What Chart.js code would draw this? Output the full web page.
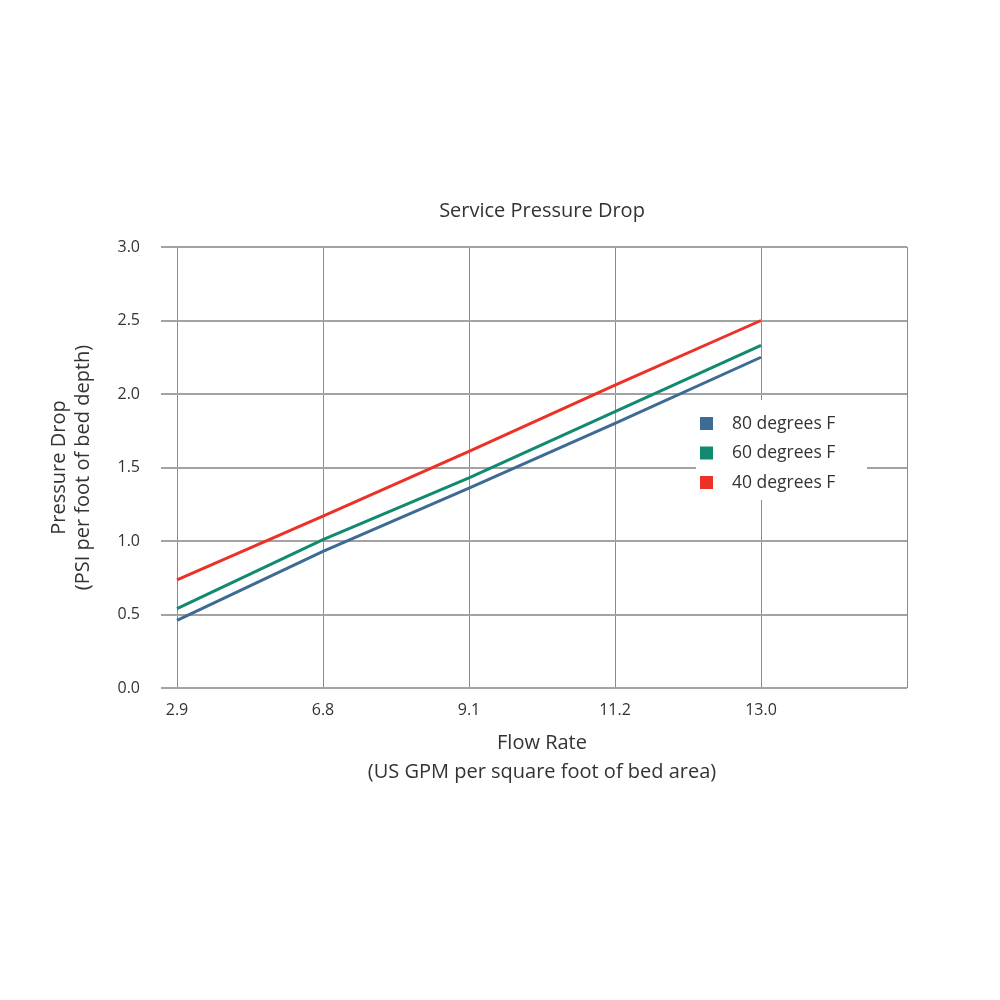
<!DOCTYPE html>
<html>
<head>
<meta charset="utf-8">
<script src="https://cdn.jsdelivr.net/npm/chart.js@4/dist/chart.umd.min.js"></script>
<style>
  html, body { margin: 0; padding: 0; background: #fff; }
  #wrap { width: 1000px; height: 1000px; }
</style>
</head>
<body>
<div id="wrap"><canvas id="chart" width="1000" height="1000"></canvas></div>
<script>
// Flow rate categories (last one is an empty slot, the plot runs on past 13.0)
var flowRates = ["2.9", "6.8", "9.1", "11.2", "13.0", ""];

// Pressure drop
var deg80 = [0.46, 0.93, 1.36, 1.80, 2.25];
var deg60 = [0.54, 1.01, 1.43, 1.88, 2.33];
var deg40 = [0.735, 1.17, 1.61, 2.06, 2.50];

var seriesNames = ["80 degrees F", "60 degrees F", "40 degrees F"];
var yTicks = [0, 0.5, 1.0, 1.5, 2.0, 2.5, 3.0];

var FONT = "'Open Sans', 'Noto Sans', sans-serif";
var TEXT = "#333333";

// Legend drawn inside the plot, on a white box
var boxLegend = {
    id: "boxLegend",
    afterDatasetsDraw(chart) {
        var ctx = chart.ctx;
        ctx.save();
        ctx.fillStyle = "#ffffff";
        ctx.fillRect(696, 400, 171, 100);
        chart.data.datasets.forEach((ds, i) => {
            var y = 424 + i * 29.5;
            ctx.fillStyle = ds.borderColor;
            ctx.fillRect(700, y - 7, 13, 13);
            ctx.fillStyle = TEXT;
            ctx.font = "17.5px " + FONT;
            ctx.textBaseline = "middle";
            ctx.textAlign = "left";
            ctx.fillText(ds.label, 732, y);
        });
        ctx.restore();
    }
};

new Chart(document.getElementById("chart").getContext("2d"), {
    type: "line",
    data: {
        labels: flowRates,
        datasets: [{
            label: seriesNames[0],
            data: deg80,
            borderColor: "#3e6b94",
            backgroundColor: "#3e6b94",
            borderWidth: 3,
            pointRadius: 0,
            tension: 0
        }, {
            label: seriesNames[1],
            data: deg60,
            borderColor: "#128a70",
            backgroundColor: "#128a70",
            borderWidth: 3,
            pointRadius: 0,
            tension: 0
        }, {
            label: seriesNames[2],
            data: deg40,
            borderColor: "#ec3127",
            backgroundColor: "#ec3127",
            borderWidth: 3,
            pointRadius: 0,
            tension: 0
        }]
    },
    options: {
        responsive: false,
        animation: false,
        devicePixelRatio: 1,
        layout: { padding: { top: 199, left: 0, right: 93, bottom: 192 } },
        plugins: {
            legend: { display: false },
            tooltip: { enabled: false },
            title: {
                display: true,
                fullSize: false,
                text: "Service Pressure Drop",
                color: TEXT,
                font: { family: FONT, size: 20, weight: "normal", lineHeight: 1.2 },
                padding: { top: 0, bottom: 24 }
            }
        },
        scales: {
            x: {
                type: "category",
                offset: false,
                border: { display: false },
                grid: { color: "#8c8c8c", lineWidth: 1, drawTicks: false },
                ticks: {
                    color: TEXT,
                    padding: 13,
                    maxRotation: 0,
                    autoSkip: false,
                    font: { family: FONT, size: 16 }
                },
                title: {
                    display: true,
                    text: ["Flow Rate", "(US GPM per square foot of bed area)"],
                    color: TEXT,
                    font: { family: FONT, size: 20, lineHeight: 1.45 },
                    padding: { top: 0, bottom: 21 }
                },
                afterFit(scale) { scale.height = 120; }
            },
            y: {
                min: 0,
                max: 3,
                border: { display: false },
                grid: { color: "#a3a3a3", lineWidth: 2, tickLength: 16 },
                afterBuildTicks(scale) {
                    scale.ticks = yTicks.map(v => ({ value: v }));
                },
                ticks: {
                    color: TEXT,
                    padding: 21,
                    font: { family: FONT, size: 16 },
                    callback: v => v.toFixed(1)
                },
                title: {
                    display: true,
                    text: ["Pressure Drop", "(PSI per foot of bed depth)"],
                    color: TEXT,
                    font: { family: FONT, size: 20, lineHeight: 1.2 },
                    padding: { top: 47, bottom: 0 }
                },
                afterFit(scale) { scale.width = 177; }
            }
        }
    },
    plugins: [boxLegend]
});
</script>
</body>
</html>
